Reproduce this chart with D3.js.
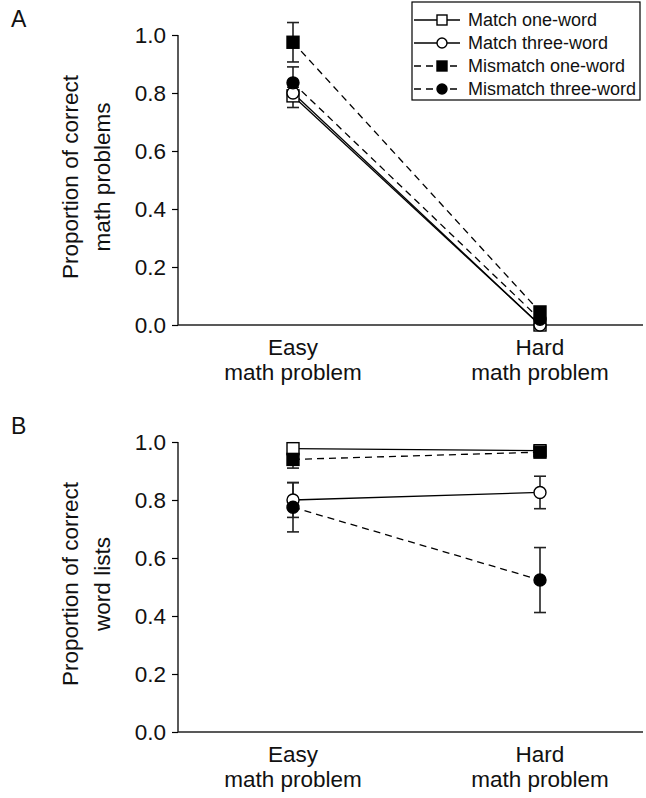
<!DOCTYPE html>
<html>
<head>
<meta charset="utf-8">
<script src="https://cdn.jsdelivr.net/npm/d3@7"></script>
<style>
  body { margin: 0; background: #fff; }
  svg { display: block; font-family: "Liberation Sans", Arial, sans-serif; }
</style>
</head>
<body>
<svg id="chart" width="646" height="798"></svg>
<script>
const categories = ["Easy", "Hard"];
const seriesNames = ["Match one-word", "Match three-word", "Mismatch one-word", "Mismatch three-word"];
const yTicks = [0, 0.2, 0.4, 0.6, 0.8, 1.0];

// panel A: proportion of correct math problems
const mathMatchOne = [0.79, 0.0];
const mathMatchThree = [0.80, 0.0];
const mathMismatchOne = [0.975, 0.045];
const mathMismatchThree = [0.835, 0.02];
const mathErr = [[0.04, 0.01], [0.02, 0.01], [0.068, 0.01], [0.055, 0.01]];

// panel B: proportion of correct word lists
const wordMatchOne = [0.977, 0.97];
const wordMatchThree = [0.80, 0.826];
const wordMismatchOne = [0.94, 0.965];
const wordMismatchThree = [0.775, 0.524];
const wordErr = [[0.01, 0.01], [0.06, 0.056], [0.03, 0.01], [0.085, 0.112]];

const svg = d3.select("#chart");
const axisX = 178, axisEnd = 643;

// style per series: open/filled, square/circle, dashed
const styles = [
  { shape: "square", fill: "#fff", dash: null },
  { shape: "circle", fill: "#fff", dash: null },
  { shape: "square", fill: "#000", dash: "7,5" },
  { shape: "circle", fill: "#000", dash: "7,5" }
];

const x = d3.scalePoint().domain(categories).range([293, 540]);

function drawMarker(g, shape, fill, cx, cy, size) {
  if (shape === "square") {
    g.append("rect")
      .attr("x", cx - size / 2).attr("y", cy - size / 2)
      .attr("width", size).attr("height", size)
      .attr("fill", fill).attr("stroke", "#000").attr("stroke-width", 1.4);
  } else {
    g.append("circle")
      .attr("cx", cx).attr("cy", cy).attr("r", size / 2)
      .attr("fill", fill).attr("stroke", "#000").attr("stroke-width", 1.4);
  }
}

function drawPanel(top, bottom, label, titleLines, values, errs) {
  const y = d3.scaleLinear().domain([0, 1]).range([bottom, top]);
  const g = svg.append("g");

  // panel letter
  g.append("text").attr("x", 11).attr("y", top - 8)
    .attr("font-size", 23).attr("fill", "#111").text(label);

  // y axis
  const yAxis = d3.axisLeft(y).tickValues(yTicks).tickFormat(d3.format(".1f"))
    .tickSize(6).tickPadding(6);
  const ya = g.append("g").attr("transform", `translate(${axisX},0)`).call(yAxis);
  ya.select(".domain").attr("d", `M0,${top}V${bottom}`).attr("stroke", "#000").attr("stroke-width", 1.3);
  ya.selectAll(".tick line").attr("stroke", "#000").attr("stroke-width", 1.2);
  ya.selectAll(".tick text").attr("font-size", 22.5).attr("fill", "#111")
    .attr("font-family", "Liberation Sans, Arial, sans-serif");

  // x axis line
  g.append("line").attr("x1", axisX).attr("x2", axisEnd)
    .attr("y1", bottom).attr("y2", bottom)
    .attr("stroke", "#222").attr("stroke-width", 1.3);

  // category labels
  categories.forEach(c => {
    const t = g.append("text").attr("text-anchor", "middle").attr("font-size", 22.5).attr("fill", "#111");
    t.append("tspan").attr("x", x(c)).attr("y", bottom + 30).text(c);
    t.append("tspan").attr("x", x(c)).attr("y", bottom + 55).text("math problem");
  });

  // y title
  const midY = (top + bottom) / 2 - 3;
  titleLines.forEach((line, i) => {
    g.append("text")
      .attr("transform", `translate(${i === 0 ? 78 : 110},${midY}) rotate(-90)`)
      .attr("text-anchor", "middle").attr("font-size", 22.5).attr("fill", "#111")
      .text(line);
  });

  const line = d3.line().x((d, i) => x(categories[i])).y(d => y(d));

  // connecting lines
  values.forEach((vals, s) => {
    g.append("path").datum(vals)
      .attr("d", line).attr("fill", "none")
      .attr("stroke", "#000").attr("stroke-width", 1.3)
      .attr("stroke-dasharray", styles[s].dash);
  });

  // error bars
  values.forEach((vals, s) => {
    vals.forEach((v, i) => {
      const cx = x(categories[i]);
      const e = errs[s][i];
      g.append("line").attr("x1", cx).attr("x2", cx)
        .attr("y1", y(v - e)).attr("y2", y(v + e))
        .attr("stroke", "#222").attr("stroke-width", 1.6);
      [v - e, v + e].forEach(b => {
        g.append("line").attr("x1", cx - 6).attr("x2", cx + 6)
          .attr("y1", y(b)).attr("y2", y(b))
          .attr("stroke", "#222").attr("stroke-width", 1.6);
      });
    });
  });

  // markers
  values.forEach((vals, s) => {
    vals.forEach((v, i) => {
      drawMarker(g, styles[s].shape, styles[s].fill, x(categories[i]), y(v), 12);
    });
  });
}

drawPanel(35, 325, "A", ["Proportion of correct", "math problems"],
  [mathMatchOne, mathMatchThree, mathMismatchOne, mathMismatchThree], mathErr);
drawPanel(442, 732, "B", ["Proportion of correct", "word lists"],
  [wordMatchOne, wordMatchThree, wordMismatchOne, wordMismatchThree], wordErr);

// legend
const legend = svg.append("g");
legend.append("rect").attr("x", 412).attr("y", 2).attr("width", 228).attr("height", 98)
  .attr("fill", "#fff").attr("stroke", "#000").attr("stroke-width", 1.2);
seriesNames.forEach((name, s) => {
  const ly = 20 + s * 23;
  legend.append("line").attr("x1", 414).attr("x2", 460).attr("y1", ly).attr("y2", ly)
    .attr("stroke", "#000").attr("stroke-width", 1.3)
    .attr("stroke-dasharray", styles[s].dash);
  drawMarker(legend, styles[s].shape, styles[s].fill, 442, ly, 10);
  legend.append("text").attr("x", 468).attr("y", ly).attr("dy", "0.35em")
    .attr("font-size", 18).attr("fill", "#111").text(name);
});
</script>
</body>
</html>
